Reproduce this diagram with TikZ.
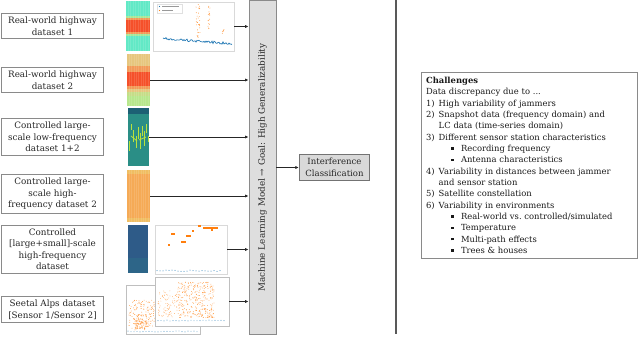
\documentclass[tikz,border=0pt]{standalone}
\usepackage{fontspec}
\setmainfont{DejaVu Serif}
\usetikzlibrary{arrows.meta,positioning,calc}
\definecolor{BoxGray}{HTML}{8A8A8A}
\definecolor{BarFill}{HTML}{DEDEDE}
\definecolor{PlotBlue}{HTML}{1F77B4}
\definecolor{PlotOrange}{HTML}{FF7F0E}
\definecolor{StripCyan}{HTML}{62E9C6}
\definecolor{StripFringe}{HTML}{A6E89A}
\definecolor{StripRed}{HTML}{F5502A}
\definecolor{StripOrange}{HTML}{F29A58}
\definecolor{StripSand}{HTML}{E6C67E}
\definecolor{StripGreen}{HTML}{B7E78C}
\definecolor{StripTeal}{HTML}{2A8E86}
\definecolor{StripYellow}{HTML}{B9E23C}
\definecolor{StripAmber}{HTML}{F5AA56}
\definecolor{StripGold}{HTML}{F0BE62}
\definecolor{StripBlue}{HTML}{2E5B88}
\newcommand{\chlab}[1]{\makebox[9.5pt][l]{#1}}
\newcommand{\chbul}{\hspace*{19pt}\rule[1.4pt]{1.7pt}{1.7pt}\hspace{5.5pt}}
\tikzset{
  data box/.style={draw=BoxGray,fill=white,line width=0.6pt,align=center,text=black!85,
    font=\fontsize{6.6}{8.6}\selectfont,minimum width=76pt,inner sep=2.6pt},
  strip/.style={draw=none,inner sep=0pt},
  plot box/.style={draw=black!15,fill=white,line width=0.4pt,inner sep=0pt,
    minimum width=57pt,minimum height=36.75pt},
  ml bar/.style={draw=BoxGray,fill=BarFill,line width=0.6pt,inner sep=0pt,text=black!85,
    font=\fontsize{6.6}{8.6}\selectfont,minimum width=20.25pt,minimum height=250pt},
  class box/.style={draw=black!55,fill=black!15,line width=0.6pt,align=center,text=black!85,
    font=\fontsize{6.4}{8.6}\selectfont,minimum width=53pt,minimum height=19.5pt,inner sep=1pt},
  challenge box/.style={draw=BoxGray,fill=white,line width=0.6pt,align=left,text=black!90,
    font=\fontsize{6.3}{8.5}\selectfont,text width=155pt,inner sep=3.5pt},
  flow arrow/.style={-{Latex[length=2.6pt,width=2.4pt]},draw=black!85,line width=0.7pt}
}
\begin{document}
\begin{tikzpicture}[x=0.75pt,y=-0.75pt]
  \useasboundingbox (0,0) rectangle (640,337);
  % dataset labels
  \node[data box] (d1) at (52.5,26) {Real-world highway\\dataset 1};
  \node[data box] (d2) at (52.5,80) {Real-world highway\\dataset 2};
  \node[data box] (d3) at (52.5,137) {Controlled large-\\scale low-frequency\\dataset 1+2};
  \node[data box] (d4) at (52.5,194) {Controlled large-\\scale high-\\frequency dataset 2};
  \node[data box] (d5) at (52.5,249) {Controlled\\{[}large+small{]}-scale\\high-frequency\\dataset};
  \node[data box] (d6) at (52.5,309.5) {Seetal Alps dataset\\{[}Sensor 1/Sensor 2{]}};

  % spectrogram strips
  \node[strip,fill=StripCyan,minimum width=18pt,minimum height=37.5pt] (s1) at (138,26) {};
  \fill[StripFringe] (126,16) rectangle (150,36);
  \fill[StripOrange] (126,18) rectangle (150,34);
  \fill[StripRed] (126,20) rectangle (150,32);
  \node[strip,fill=StripGreen,minimum width=17.25pt,minimum height=39pt] (s2) at (138.5,80) {};
  \fill[StripSand] (127,54) rectangle (150,93);
  \fill[StripOrange] (127,66) rectangle (150,89);
  \fill[StripRed] (127,72) rectangle (150,86);
  \fill[StripGreen!70!StripSand] (127,92) rectangle (150,96);
  \node[strip,fill=StripTeal,minimum width=15.75pt,minimum height=43.5pt] (s3) at (138.5,137) {};
  \fill[StripTeal!75!black!90!blue] (128,108) rectangle (149,114);
  \foreach \xx/\ya/\yb in {129/141/151,131/124/130,133/130/142,136/136/148,138/127/139,
      140/133/149,142/126/136,144/131/146,146/124/133,148/136/142}
    \draw[StripYellow,line width=0.6pt] (\xx,\ya) -- (\xx,\yb);
  \draw[StripYellow,line width=0.6pt] (131,136) -- (137,141) (139,140) -- (146,137);
  \node[strip,fill=StripGold,minimum width=17.25pt,minimum height=39pt] (s4) at (138.5,196) {};
  \fill[StripAmber] (127,174) rectangle (150,218);
  \node[strip,fill=StripBlue,minimum width=15pt,minimum height=36pt] (s5) at (138,249) {};
  \fill[StripBlue!80!StripTeal] (128,258) rectangle (148,273);
  \foreach \s in {s1,s2,s4}
    \foreach \f in {0.1,0.2,...,0.9}
      \draw[white,opacity=0.12,line width=0.3pt] ($(\s.north west)!\f!(\s.north east)$) -- ($(\s.south west)!\f!(\s.south east)$);

  % plot 1
  \node[plot box,minimum width=60.75pt] (p1) at (193.5,26.5) {};
  \draw[black!12,line width=0.3pt] (157,4) rectangle (182,13);
  \fill[PlotBlue] (159.5,6.5) circle (0.7);
  \fill[PlotOrange] (159.5,10.5) circle (0.7);
  \draw[black!40,line width=0.4pt] (162,6.5) -- (179,6.5) (162,10.5) -- (173,10.5);
  \pgfmathsetseed{3}
  \draw[PlotBlue,line width=0.5pt] plot[domain=163:232,samples=70] (\x,{37+0.08*(\x-163)+2.5*rnd});
  \foreach \i in {1,...,30}
    \fill[PlotOrange!80] ({196+4*rnd},{3+35*rnd}) circle (0.45);
  \foreach \i in {1,...,16}
    \fill[PlotOrange!80] ({208+2*rnd},{3+33*rnd}) circle (0.45);
  \foreach \i in {1,...,5}
    \fill[PlotOrange!80] ({222+2*rnd},{18+18*rnd}) circle (0.45);

  % plot 5
  \node[plot box,minimum width=54pt] (p5) at (191,249.5) {};
  \foreach \xa/\yy/\xb in {203/228/218,198/226/201,171/234/175,186/236/191,181/242/186,
      168/245/170,192/231/194,211/230/213}
    \draw[PlotOrange,line width=0.8pt] (\xa,\yy) -- (\xb,\yy);
  \foreach \xx in {157,160,...,222}
    \fill[PlotBlue] (\xx,{270+1.5*rnd}) circle (0.5);

  % Seetal plots
  \node[plot box,minimum width=55.5pt,draw=black!25] (sb) at (163,309.5) {};
  \foreach \i in {1,...,160}
    \fill[PlotOrange!85] ({129+26*rnd},{300+29*rnd}) circle (0.4);
  \foreach \i in {1,...,60}
    \fill[PlotOrange!85] ({133+16*rnd},{318+12*rnd}) circle (0.45);
  \foreach \xx in {128,131,...,198}
    \fill[PlotBlue] (\xx,{331+rnd}) circle (0.45);
  \node[plot box,minimum width=55.5pt,draw=black!25] (sf) at (192,301.5) {};
  \foreach \i in {1,...,90}
    \fill[PlotOrange!70] ({158+20*rnd},{290+28*rnd}) circle (0.4);
  \foreach \i in {1,...,320}
    \fill[PlotOrange!85] ({178+36*rnd},{282+36*rnd}) circle (0.4);
  \foreach \xx in {158,161,...,226}
    \fill[PlotBlue] (\xx,{320+rnd}) circle (0.45);

  % model bar and output
  \node[ml bar] (ml) at (262.5,167.5) {\rotatebox{90}{Machine Learning Model → Goal: High Generalizability}};
  \node[class box] (intf) at (334.5,167.5) {Interference\\Classification};

  \draw[flow arrow] (p1.east) -- (p1.east -| ml.west);
  \draw[flow arrow] (s2.east) -- (s2.east -| ml.west);
  \draw[flow arrow] (s3.east) -- (s3.east -| ml.west);
  \draw[flow arrow] (s4.east) -- (s4.east -| ml.west);
  \draw[flow arrow] (p5.east) -- (p5.east -| ml.west);
  \draw[flow arrow] (sf.east) -- (sf.east -| ml.west);
  \draw[flow arrow] (ml.east) -- (intf.west);

  % separator
  \draw[black!65,line width=0.8pt] (396,0) -- (396,334);

  % challenges
  \node[challenge box,anchor=north west] (chal) at (421,72) {%
    \textbf{Challenges}\\
    Data discrepancy due to ...\\
    \chlab{1)}High variability of jammers\\
    \chlab{2)}Snapshot data (frequency domain) and\\
    \chlab{}LC data (time-series domain)\\
    \chlab{3)}Different sensor station characteristics\\
    \chbul Recording frequency\\
    \chbul Antenna characteristics\\
    \chlab{4)}Variability in distances between jammer\\
    \chlab{}and sensor station\\
    \chlab{5)}Satellite constellation\\
    \chlab{6)}Variability in environments\\
    \chbul Real-world vs.\ controlled/simulated\\
    \chbul Temperature\\
    \chbul Multi-path effects\\
    \chbul Trees \& houses};
\end{tikzpicture}
\end{document}
